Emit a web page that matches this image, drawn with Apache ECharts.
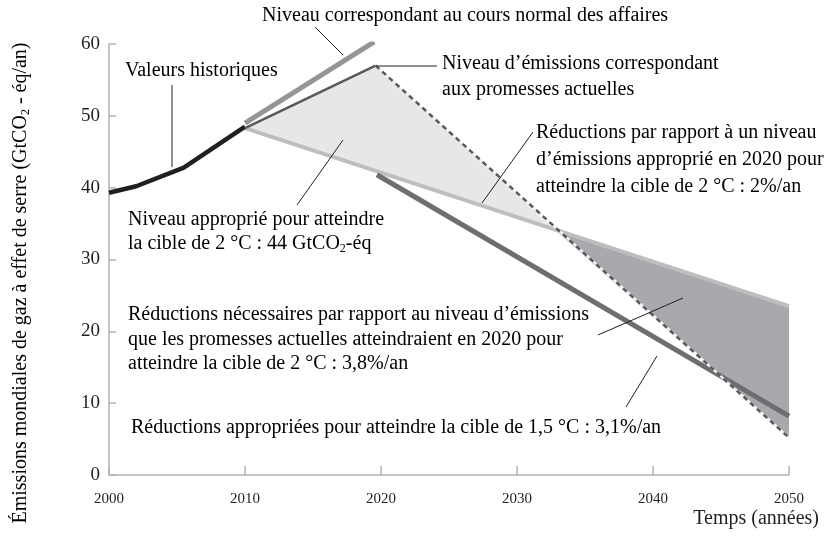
<!DOCTYPE html>
<html>
<head>
<meta charset="utf-8">
<script src="https://cdn.jsdelivr.net/npm/echarts@6/dist/echarts.min.js"></script>
<style>
  html, body { margin: 0; padding: 0; background: #fff; }
  #chart { width: 835px; height: 537px; }
</style>
</head>
<body>
<div id="chart"></div>
<script>
// valeurs (année, GtCO2-éq)
var historique = [[2000, 39.3], [2002, 40.2], [2005.5, 42.8], [2010, 48.5]];
var coursNormal = [[2010, 49], [2019.5, 60.3]];
var promesses = [[2010, 48.3], [2019.6, 57]];
var promessesVers2C = [[2019.6, 57], [2050, 5.2]];
var cible2C = [[2010, 48.3], [2050, 23.5]];
var cible15C = [[2019.7, 41.8], [2050, 8.2]];
var zoneClaire = [[2010, 48.3], [2019.6, 57], [2032.6, 34.5]];
var zoneFoncee = [[2032.6, 34.5], [2050, 23.5], [2050, 5.2]];
var xTicks = [2000, 2010, 2020, 2030, 2040, 2050];
var yTicks = [0, 10, 20, 30, 40, 50, 60];

var police = "'Liberation Serif', 'DejaVu Serif', serif";
var encre = "#231f20";
var gris = "#b3b3b3";

var richTexte = {
  t: { fontFamily: police, fontSize: 20, color: encre },
  s: { fontFamily: police, fontSize: 12, color: encre, padding: [10, 0, 0, 0] }
};

function polygone(pts, couleur, z) {
  return {
    type: "custom",
    coordinateSystem: "cartesian2d",
    data: pts,
    silent: true,
    z: z,
    renderItem: function (params, api) {
      if (params.dataIndex !== 0) return;
      return {
        type: "polygon",
        shape: { points: pts.map(function (p) { return api.coord(p); }) },
        style: { fill: couleur }
      };
    }
  };
}

function ligne(data, couleur, largeur, type, z) {
  return {
    type: "line",
    data: data,
    symbol: "none",
    silent: true,
    z: z,
    lineStyle: { color: couleur, width: largeur, type: type || "solid", cap: "butt" }
  };
}

// annotations : [gauche, centre y, texte]
var textes = [
  [262, 18, "{t|Niveau correspondant au cours normal des affaires}"],
  [125, 73, "{t|Valeurs historiques}"],
  [442, 66, "{t|Niveau d’émissions correspondant}"],
  [442, 92, "{t|aux promesses actuelles}"],
  [536, 135, "{t|Réductions par rapport à un niveau}"],
  [536, 162, "{t|d’émissions approprié en 2020 pour}"],
  [536, 189, "{t|atteindre la cible de 2 °C : 2%/an}"],
  [128, 222, "{t|Niveau approprié pour atteindre}"],
  [128, 246, "{t|la cible de 2 °C : 44 GtCO}{s|2}{t|-éq}"],
  [128, 317, "{t|Réductions nécessaires par rapport au niveau d’émissions}"],
  [128, 342, "{t|que les promesses actuelles atteindraient en 2020 pour}"],
  [128, 366, "{t|atteindre la cible de 2 °C : 3,8%/an}"],
  [131, 430, "{t|Réductions appropriées pour atteindre la cible de 1,5 °C : 3,1%/an}"]
];
var traits = [
  [315, 27, 343, 55],
  [172, 85, 172, 167],
  [377, 66, 437, 66],
  [533, 132, 482, 203],
  [297, 205, 343, 140],
  [598, 335, 683, 298],
  [626, 407, 657, 356]
];

var graphiques = [];
textes.forEach(function (t) {
  graphiques.push({
    type: "text", left: t[0], top: t[1] - 12, z: 10, silent: true,
    style: { text: t[2], rich: richTexte }
  });
});
traits.forEach(function (l) {
  graphiques.push({
    type: "line", z: 10, silent: true,
    shape: { x1: l[0], y1: l[1], x2: l[2], y2: l[3] },
    style: { stroke: encre, lineWidth: 1 }
  });
});
graphiques.push({
  type: "text", right: 16, top: 509, z: 10, silent: true,
  style: { text: "Temps (années)", fontFamily: police, fontSize: 20, fill: encre }
});
// titre de l'axe vertical
graphiques.push({
  type: "text", x: 21, y: 283, rotation: Math.PI / 2, z: 10, silent: true,
  style: {
    text: "{t|Émissions mondiales de gaz à effet de serre (GtCO}{s|2}{t| - éq/an)}",
    rich: richTexte, align: "center", verticalAlign: "middle"
  }
});

var myChart = echarts.init(document.getElementById("chart"));
var option = {
  animation: false,
  backgroundColor: "#fff",
  grid: { left: 109, right: 46, top: 44, bottom: 62 },
  xAxis: {
    type: "value",
    min: xTicks[0],
    max: xTicks[xTicks.length - 1],
    interval: 10,
    splitLine: { show: false },
    axisLine: { lineStyle: { color: gris, width: 1.5 } },
    axisTick: { inside: true, length: 9, lineStyle: { color: gris, width: 1.5 } },
    axisLabel: { fontFamily: police, fontSize: 15, color: encre, margin: 17, formatter: function (v) { return String(v); } }
  },
  yAxis: {
    type: "value",
    min: yTicks[0],
    max: yTicks[yTicks.length - 1],
    interval: 10,
    splitLine: { show: false },
    axisLine: { show: true, lineStyle: { color: gris, width: 1.5 } },
    axisTick: { show: true, inside: true, length: 7, lineStyle: { color: gris, width: 1.5 } },
    axisLabel: { fontFamily: police, fontSize: 19, color: encre, margin: 9 }
  },
  graphic: graphiques,
  series: [
    polygone(zoneClaire, "#e6e7e8", 1),
    polygone(zoneFoncee, "#a7a9ac", 1),
    ligne(cible2C, "#bcbec0", 4, "solid", 3),
    ligne(historique, encre, 4.5, "solid", 4),
    ligne(coursNormal, "#939598", 5, "solid", 4),
    ligne(promesses, "#58595b", 2.5, "solid", 5),
    ligne(cible15C, "#6d6e71", 5, "solid", 5),
    ligne(promessesVers2C, "#f2f2f2", 2.5, "solid", 6),
    ligne(promessesVers2C, "#58595b", 2.5, [5, 4], 7)
  ]
};
myChart.setOption(option);
</script>
</body>
</html>
